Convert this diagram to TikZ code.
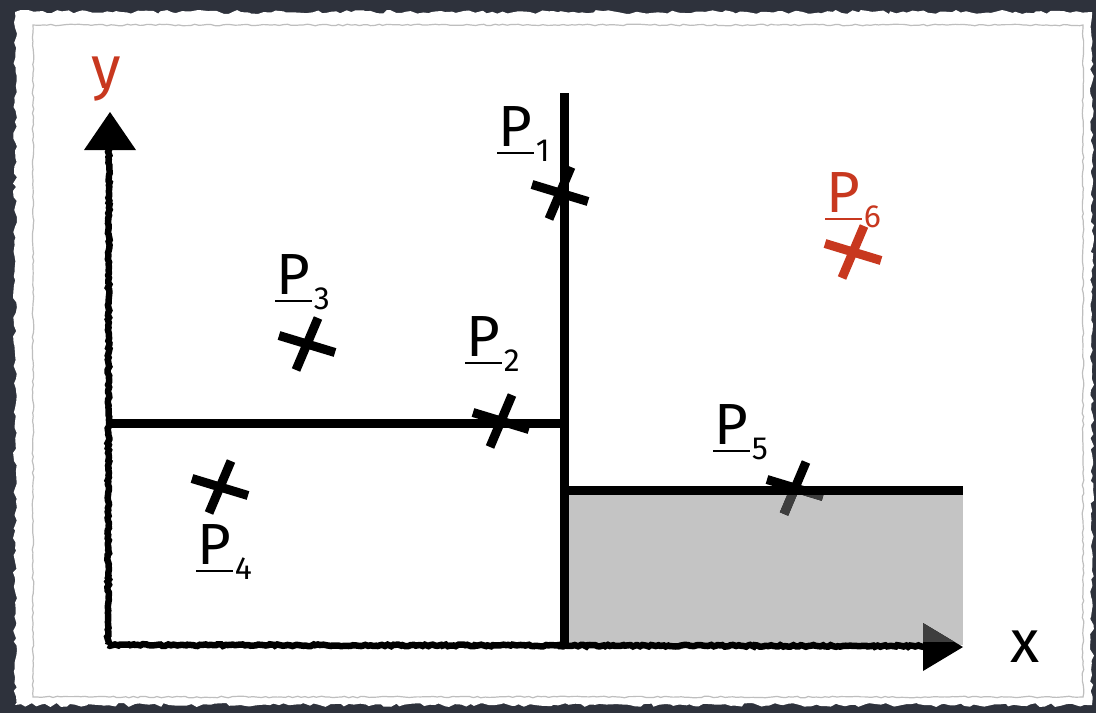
\documentclass[tikz,border=0pt]{standalone}
\usepackage{fontspec}
\setmainfont{Fira Sans}
\usetikzlibrary{decorations.pathmorphing}
\definecolor{bgdark}{HTML}{2E323C}
\definecolor{redink}{HTML}{C8381F}
\definecolor{fillgray}{HTML}{C4C4C4}
\definecolor{shadegray}{HTML}{3E3E3E}
\definecolor{edgegray}{HTML}{BEBEBE}
\newcommand\plab[1]{\rule[-8pt]{37pt}{2pt}\hspace{-36pt}P\hspace{4pt}\raisebox{-15pt}{\fontsize{32}{32}\selectfont #1}}
\begin{document}
\begin{tikzpicture}[x=1pt,y=-1pt,
  bigline/.style={line width=9pt, black},
  axisline/.style={line width=6.5pt, black, decorate,
    decoration={random steps, segment length=2.5pt, amplitude=0.9pt}},
  crossarm/.style={line width=9pt},
  xcross/.pic={\draw[crossarm] (-28,-8.5) -- (28,8.5) (-11,26) -- (11,-26);},
  plabel/.style={anchor=base west, inner sep=0pt, font=\fontsize{58}{58}\selectfont},
  axlabel/.style={anchor=base, inner sep=0pt, font=\fontsize{60}{60}\selectfont}]
\pgfmathsetseed{7}
\useasboundingbox (0,0) rectangle (1096,713);
\fill[bgdark] (0,0) rectangle (1096,713);
% paper
\fill[white, decorate, decoration={random steps, segment length=5pt, amplitude=2pt}]
  (15,12) rectangle (1092,705);
\draw[edgegray, line width=1.2pt, decorate,
  decoration={random steps, segment length=4pt, amplitude=0.8pt}]
  (33,25) rectangle (1083,697);
% coordinates
\coordinate (O) at (108,645);
\coordinate (Yt) at (110,112);
\coordinate (Yb) at (109,146);
\coordinate (Xt) at (963,647);
\coordinate (Xb) at (926,646);
\coordinate (Vt) at (564,93);
\coordinate (Vb) at (564,643);
\coordinate (H1a) at (108,423);
\coordinate (H1b) at (568,423);
\coordinate (H2a) at (564,490);
\coordinate (H2b) at (963,490);
\coordinate (c1) at (560,193);
\coordinate (c2) at (501,421);
\coordinate (c3) at (307,344);
\coordinate (c4) at (220,487);
\coordinate (c5) at (795,488);
\coordinate (c6) at (853,252);
% gray region
\fill[fillgray] (568,495) rectangle (963,645);
% thick lines
\draw[bigline] (H1a) -- (H1b);
\draw[bigline] (H2a) -- (H2b);
\draw[bigline] (Vt) -- (Vb);
% axes
\draw[axisline] (O) -- (Yb);
\draw[axisline] (O) -- (Xb);
\fill[black] (Yt) -- ++(-26,38) -- ++(52,0) -- cycle;
\fill[black] (Xt) -- ++(-40,-24) -- ++(0,48) -- cycle;
% crosses
\pic[color=black] at (c1) {xcross};
\pic[color=black] at (c2) {xcross};
\pic[color=black] at (c3) {xcross};
\pic[color=black] at (c4) {xcross};
\pic[color=black] at (c5) {xcross};
\pic[color=redink] at (c6) {xcross};
% parts lying on the gray region
\begin{scope}
  \clip (568,495) rectangle (963,641);
  \fill[shadegray] (Xt) -- ++(-40,-24) -- ++(0,48) -- cycle;
  \pic[color=shadegray] at (c5) {xcross};
\end{scope}
% labels
\node[plabel] (l1) at (497,146) {\plab{1}};
\node[plabel] (l2) at (465,356) {\plab{2}};
\node[plabel] (l3) at (275,294) {\plab{3}};
\node[plabel] (l4) at (196,564) {\plab{4}};
\node[plabel] (l5) at (713,444) {\plab{5}};
\node[plabel, text=redink] (l6) at (825,212) {\plab{6}};
\node[axlabel, text=redink] (ly) at (106,88) {y};
\node[axlabel] (lx) at (1025,662) {x};
\end{tikzpicture}
\end{document}
